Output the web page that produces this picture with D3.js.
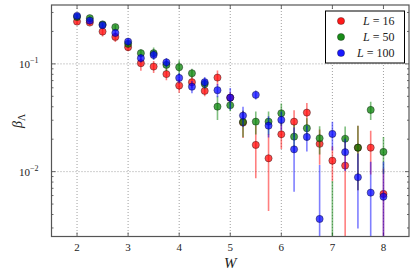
<!DOCTYPE html>
<html>
<head>
<meta charset="utf-8">
<script src="https://cdn.jsdelivr.net/npm/d3@7"></script>
<style>
  body { margin: 0; padding: 0; background: #fff; }
  text { font-family: "Liberation Serif", "DejaVu Serif", serif; fill: #222; }
</style>
</head>
<body>
<script>
const W = [2, 2.25, 2.5, 2.75, 3, 3.25, 3.5, 3.75, 4, 4.25, 4.5, 4.75, 5,
           5.25, 5.5, 5.75, 6, 6.25, 6.5, 6.75, 7, 7.25, 7.5, 7.75, 8]

const beta16 = [0.247, 0.2417, 0.1995, 0.178, 0.143, 0.1015, 0.0944, 0.0804, 0.0629, 0.0676, 0.0561, 0.0746, 0.0486,
                0.0285, 0.0177, 0.0133, 0.0222, 0.0291, 0.0353, 0.0181, 0.01265, 0.01137, 0.0167, 0.0167, 0.00621]
const err16 = [0.012, 0.012, 0.02, 0.018, 0.012, 0.015, 0.012, 0.01, 0.009, 0.008, 0.006, 0.012, 0.006,
               0.008, 0.009, 0.009, 0.006, 0.008, 0.008, 0.0065, 0.0045, 0.0095, 0.01, 0.0073, 0.0045]

const beta50 = [0.273, 0.2656, 0.2326, 0.2192, 0.1534, 0.1257, 0.1257, 0.0979, 0.0932, 0.0819, 0.0652, 0.0401, 0.0413,
                0.0289, 0.0291, 0.0291, 0.0348, 0.0211, 0.0253, 0.0204, 0.0022, 0.0202, 0.0167, 0.0374, 0.01524]
const err50 = [0.01, 0.012, 0.01, 0.012, 0.01, 0.01, 0.016, 0.012, 0.015, 0.008, 0.007, 0.01, 0.005,
               0.008, 0.007, 0.007, 0.008, 0.006, 0.006, 0.006, 0.006, 0.006, 0.01, 0.0072, 0.0057]

const beta100 = [0.279, 0.252, 0.2287, 0.194, 0.161, 0.113, 0.1212, 0.1033, 0.0741, 0.0615, 0.0676, 0.057, 0.0486,
                 0.0331, 0.0516, 0.0267, 0.0302, 0.0161, 0.021, 0.00364, 0.0224, 0.01514, 0.00887, 0.00638, 0.00586]
const err100 = [0.01, 0.01, 0.01, 0.01, 0.012, 0.01, 0.012, 0.01, 0.008, 0.008, 0.008, 0.008, 0.011,
                0.007, 0.005, 0.006, 0.006, 0.0096, 0.0056, 0.0079, 0.0067, 0.005, 0.0059, 0.006, 0.0065]

const seriesNames = ["16", "50", "100"]
const seriesColors = ["#ff0000", "#008000", "#0000ff"]
const xTicks = [2, 3, 4, 5, 6, 7, 8]
const yMajor = [0.1, 0.01]

const series = [
  {L: seriesNames[0], color: seriesColors[0], vals: beta16, errs: err16},
  {L: seriesNames[1], color: seriesColors[1], vals: beta50, errs: err50},
  {L: seriesNames[2], color: seriesColors[2], vals: beta100, errs: err100}
]

const width = 416, height = 277
const m = {left: 51.5, right: 7, top: 5, bottom: 40.5}

const x = d3.scaleLinear().domain([1.5, 8.5]).range([m.left, width - m.right])
const y = d3.scaleLog().domain([0.0025, 0.352]).range([height - m.bottom, m.top])

const svg = d3.select("body").append("svg")
  .attr("width", width).attr("height", height)

svg.append("clipPath").attr("id", "clip")
  .append("rect")
  .attr("x", m.left).attr("y", m.top)
  .attr("width", width - m.left - m.right)
  .attr("height", height - m.top - m.bottom)

// grid
const grid = svg.append("g")
  .attr("stroke", "#888").attr("stroke-width", 0.8).attr("stroke-dasharray", "1,2")
grid.selectAll(".gx").data(xTicks).join("line")
  .attr("x1", d => x(d)).attr("x2", d => x(d))
  .attr("y1", m.top).attr("y2", height - m.bottom)
grid.selectAll(".gy").data(yMajor).join("line")
  .attr("x1", m.left).attr("x2", width - m.right)
  .attr("y1", d => y(d)).attr("y2", d => y(d))

// ticks (inward, all four sides)
const ticks = svg.append("g").attr("stroke", "#444").attr("stroke-width", 0.8)
xTicks.forEach(t => {
  ticks.append("line").attr("x1", x(t)).attr("x2", x(t))
    .attr("y1", height - m.bottom).attr("y2", height - m.bottom - 4)
  ticks.append("line").attr("x1", x(t)).attr("x2", x(t))
    .attr("y1", m.top).attr("y2", m.top + 4)
})
const yMinor = []
;[0.001, 0.01, 0.1].forEach(dec => {
  for (let k = 2; k <= 9; k++) {
    const v = dec * k
    if (v >= y.domain()[0] && v <= y.domain()[1]) yMinor.push(v)
  }
})
yMajor.forEach(t => {
  ticks.append("line").attr("x1", m.left).attr("x2", m.left + 4).attr("y1", y(t)).attr("y2", y(t))
  ticks.append("line").attr("x1", width - m.right).attr("x2", width - m.right - 4).attr("y1", y(t)).attr("y2", y(t))
})
yMinor.forEach(t => {
  ticks.append("line").attr("x1", m.left).attr("x2", m.left + 2).attr("y1", y(t)).attr("y2", y(t))
  ticks.append("line").attr("x1", width - m.right).attr("x2", width - m.right - 2).attr("y1", y(t)).attr("y2", y(t))
})

// data
const plot = svg.append("g").attr("clip-path", "url(#clip)")
series.forEach(s => {
  const pts = W.map((w, i) => ({w, v: s.vals[i], e: s.errs[i]}))
  plot.append("g")
    .attr("stroke", s.color).attr("stroke-opacity", 0.5).attr("stroke-width", 1.6)
    .selectAll("line").data(pts).join("line")
    .attr("x1", d => x(d.w)).attr("x2", d => x(d.w))
    .attr("y1", d => y(d.v + d.e))
    .attr("y2", d => y(Math.max(d.v - d.e, 0.0005)))
  plot.append("g")
    .selectAll("circle").data(pts).join("circle")
    .attr("cx", d => x(d.w)).attr("cy", d => y(d.v))
    .attr("r", 3.6)
    .attr("fill", s.color).attr("fill-opacity", 0.72)
    .attr("stroke", "#000").attr("stroke-opacity", 0.45).attr("stroke-width", 0.8)
})

// frame
svg.append("rect")
  .attr("x", m.left).attr("y", m.top)
  .attr("width", width - m.left - m.right)
  .attr("height", height - m.top - m.bottom)
  .attr("fill", "none").attr("stroke", "#555").attr("stroke-width", 1.2)

// tick labels
svg.append("g").selectAll("text").data(xTicks).join("text")
  .attr("x", d => x(d)).attr("y", height - m.bottom + 14)
  .attr("text-anchor", "middle").attr("font-size", 11)
  .text(d => d)

const yl = svg.append("g").selectAll("text").data(yMajor).join("text")
  .attr("x", m.left - 13).attr("y", d => y(d) + 4)
  .attr("text-anchor", "end").attr("font-size", 11)
yl.append("tspan").text("10")
yl.append("tspan").attr("dy", -5).attr("font-size", 8)
  .text(d => "\u2212" + Math.round(-Math.log10(d)))

// axis labels
svg.append("text")
  .attr("x", x(5)).attr("y", 268)
  .attr("text-anchor", "middle").attr("font-size", 15).attr("font-style", "italic")
  .text("W")

const ylab = svg.append("text")
  .attr("transform", "translate(22," + ((m.top + height - m.bottom) / 2) + ") rotate(-90)")
  .attr("text-anchor", "middle").attr("font-size", 14)
ylab.append("tspan").attr("font-style", "italic").text("\u03b2")
ylab.append("tspan").attr("font-size", 10).attr("dy", 3).text("\u039b")

// legend
const lg = svg.append("g").attr("transform", "translate(325.5,11)")
lg.append("rect").attr("width", 79).attr("height", 52)
  .attr("fill", "#fff").attr("stroke", "#000").attr("stroke-width", 1)
series.forEach((s, i) => {
  const yy = 10 + i * 16
  lg.append("circle").attr("cx", 15.5).attr("cy", yy).attr("r", 3.6)
    .attr("fill", s.color).attr("fill-opacity", 0.9)
    .attr("stroke", "#000").attr("stroke-opacity", 0.4).attr("stroke-width", 0.8)
  const t = lg.append("text").attr("x", 69).attr("y", yy + 4)
    .attr("text-anchor", "end").attr("font-size", 12)
  t.append("tspan").attr("font-style", "italic").text("L")
  t.append("tspan").text(" = " + s.L)
})
</script>
</body>
</html>
